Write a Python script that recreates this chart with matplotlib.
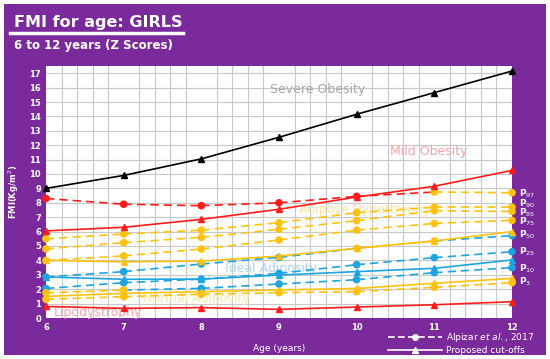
import matplotlib.pyplot as plt
from matplotlib.lines import Line2D

# ages on the x axis
ages = [6, 7, 8, 9, 10, 11, 12]

# Alpizar et al., 2017 percentiles (dashed, circles)
p97 = [8.3, 7.9, 7.8, 8.0, 8.45, 8.75, 8.7]
p90 = [5.5, 5.83, 6.1, 6.62, 7.31, 7.7, 7.7]
p85 = [4.8, 5.23, 5.6, 6.16, 6.76, 7.45, 7.4]
p75 = [4.0, 4.31, 4.79, 5.42, 6.1, 6.57, 6.78]
p50 = [2.85, 3.22, 3.75, 4.21, 4.84, 5.35, 5.72]
p25 = [2.05, 2.45, 2.7, 3.1, 3.7, 4.19, 4.6]
p10 = [1.75, 1.94, 2.06, 2.36, 2.66, 3.15, 3.5]
p3 = [1.3, 1.48, 1.65, 1.76, 1.83, 2.13, 2.45]
pct_names = ['97', '90', '85', '75', '50', '25', '10', '3']

# proposed cut-offs (solid, triangles)
severe = [9.0, 9.9, 11.05, 12.55, 14.15, 15.65, 17.15]
mild = [6.05, 6.3, 6.85, 7.55, 8.4, 9.15, 10.25]
hyper = [4.0, 3.9, 3.95, 4.3, 4.84, 5.35, 6.0]
ideal = [2.85, 2.69, 2.7, 2.98, 3.22, 3.45, 4.03]
normal = [1.5, 1.71, 1.83, 1.95, 2.05, 2.41, 2.75]
lipo = [0.8, 0.67, 0.72, 0.6, 0.76, 0.92, 1.13]

PURPLE = '#7b2a9b'
R = '#ff1c1c'
O = '#ffc20e'
B = '#1ea4e0'

fig = plt.figure(figsize=(5.5, 3.59), dpi=100)
fig.patch.set_facecolor('white')

# purple panel behind everything
panel = plt.Rectangle((4/550, 4/359), 542/550, 351/359, transform=fig.transFigure,
                      facecolor=PURPLE, edgecolor='none', zorder=-10)
fig.patches.append(panel)

fig.text(14/550, 1 - 22/359, 'FMI for age: GIRLS', color='white', fontsize=11.5,
         fontweight='bold', va='center')
fig.add_artist(Line2D([10/550, 183/550], [1 - 33/359, 1 - 33/359], color='white',
                      lw=2.5, transform=fig.transFigure))
fig.text(14/550, 1 - 45/359, '6 to 12 years (Z Scores)', color='white', fontsize=8.5,
         fontweight='bold', va='center')

ax = fig.add_axes([46/550, 1 - 318/359, 466/550, 252/359])
ax.set_facecolor('white')
ax.set_xlim(6, 12)
ax.set_ylim(0, 17.5)
ax.set_xticks(ages)
ax.set_yticks(range(0, 18))
ax.set_xticks([6 + 0.2 * i for i in range(31)], minor=True)
ax.grid(which='major', axis='y', color='#c8c8c8', lw=0.8)
ax.grid(which='minor', axis='x', color='#c8c8c8', lw=0.8)
ax.set_axisbelow(True)
ax.tick_params(which='both', length=0)
ax.tick_params(colors='white', labelsize=6)
for lab in ax.get_xticklabels() + ax.get_yticklabels():
    lab.set_fontweight('bold')
for s in ax.spines.values():
    s.set_visible(False)
ax.set_ylabel('FMI(Kg/m$^2$)', color='white', fontsize=6, fontweight='bold', labelpad=6)
ax.set_xlabel('Age (years)', color='white', fontsize=6.5, labelpad=9)

# zone labels
zones = [('Severe Obesity', 9.5, 15.9, '#a6a6a6'),
         ('Mild Obesity', 10.93, 11.55, '#f6a3ab'),
         ('Adipose Hypertrophy', 10.1, 7.5, '#fbe3a0'),
         ('Ideal Adiposity', 8.9, 3.45, '#a9d5ef'),
         ('Normal Adiposity', 7.94, 1.37, '#fbe9a6'),
         ('Lipodystrophy', 6.67, 0.37, '#f6a3ab')]
for txt, x, y, c in zones:
    ax.text(x, y, txt, color=c, fontsize=9, ha='center', va='center', zorder=1)

# cut-off lines
cutoffs = [(severe, 'black'), (mild, R), (hyper, O), (ideal, B), (normal, O), (lipo, R)]
for vals, c in cutoffs:
    ax.plot(ages, vals, color=c, lw=1.2, marker='^', ms=4.5, clip_on=False, zorder=3)

# percentile lines, coloured per segment / point
pcts = [p97, p90, p85, p75, p50, p25, p10, p3]
point_cols = [[R, R, R, R, R, O, O],
              [O] * 7, [O] * 7, [O] * 7,
              [B, B, B, B, O, O, B],
              [B] * 7,
              [O, O, B, B, B, B, B],
              [O] * 7]
seg_cols = [[R, R, R, R, R, O],
            [O] * 6, [O] * 6, [O] * 6,
            [B, B, B, B, O, B],
            [B] * 6,
            [O, B, B, B, B, B],
            [O] * 6]
for vals, pc, sc in zip(pcts, point_cols, seg_cols):
    for i in range(len(ages) - 1):
        ax.plot(ages[i:i + 2], vals[i:i + 2], color=sc[i], lw=1.2, ls=(0, (5, 3)),
                clip_on=False, zorder=2)
    ax.scatter(ages, vals, color=pc, s=20, clip_on=False, zorder=2.5)

# percentile names on the right
label_y = [8.6, 7.95, 7.3, 6.65, 5.76, 4.6, 3.45, 2.52]
for name, y in zip(pct_names, label_y):
    ax.text(12.09, y, 'P$_{' + name + '}$', color='white', fontsize=6.5,
            fontweight='bold', va='center', ha='left', clip_on=False)

handles = [Line2D([], [], color='white', ls=(0, (4, 2)), lw=1.2, marker='o', ms=4),
           Line2D([], [], color='white', ls='-', lw=1.2, marker='^', ms=4)]
leg = fig.legend(handles, ['Alpizar $\\it{et\\ al.}$, 2017', 'Proposed cut-offs'],
                 loc='center left', bbox_to_anchor=(383/550, 1 - 343/359), frameon=False,
                 fontsize=6.5, labelcolor='white', handlelength=6, handletextpad=0.5,
                 labelspacing=0.15, borderpad=0)

fig.savefig('out.png', dpi=100, facecolor=fig.get_facecolor())
